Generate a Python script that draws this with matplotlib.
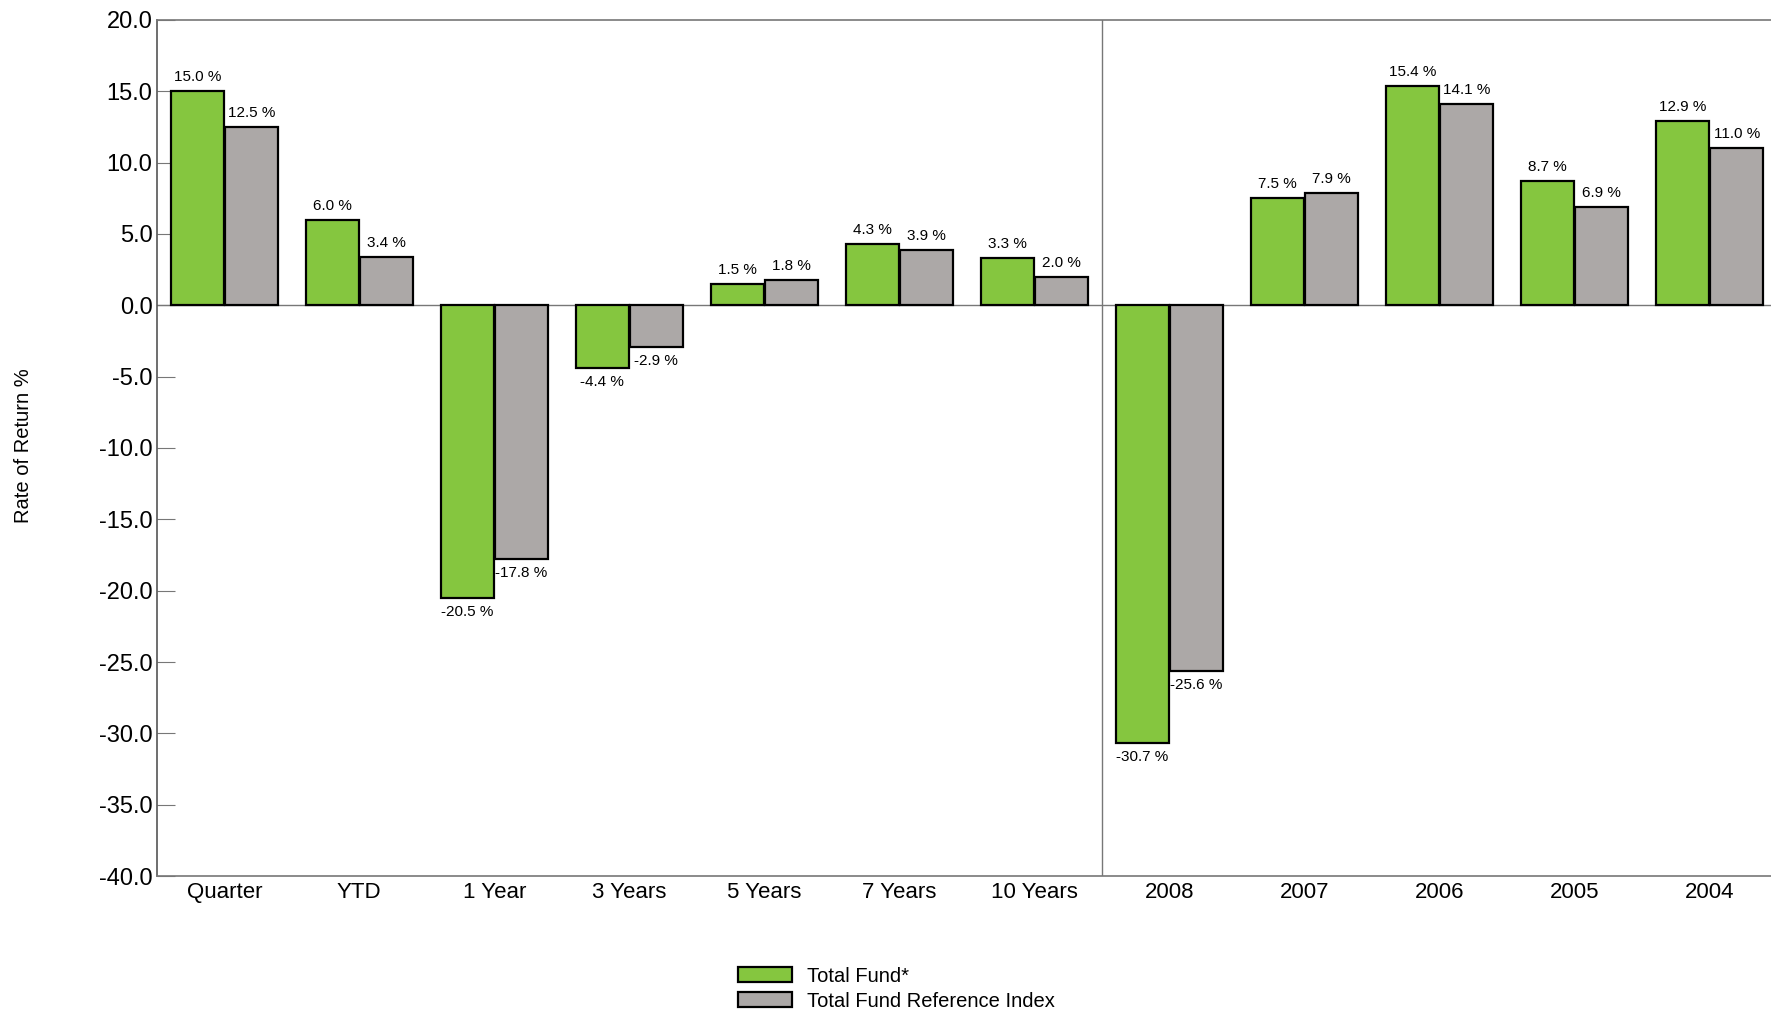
import matplotlib
matplotlib.use("Agg")
import matplotlib.pyplot as plt
import numpy as np

plt.rcParams['font.family'] = ['Liberation Sans Narrow', 'Liberation Sans', 'DejaVu Sans']

# periods / calendar years
categories = ["Quarter", "YTD", "1 Year", "3 Years", "5 Years", "7 Years", "10 Years",
              "2008", "2007", "2006", "2005", "2004"]
total_fund = [15.0, 6.0, -20.5, -4.4, 1.5, 4.3, 3.3, -30.7, 7.5, 15.4, 8.7, 12.9]
reference_index = [12.5, 3.4, -17.8, -2.9, 1.8, 3.9, 2.0, -25.6, 7.9, 14.1, 6.9, 11.0]
series_names = ["Total Fund*", "Total Fund Reference Index"]
yticks = np.arange(-40, 20.1, 5)

green = '#85c63f'
grey = '#aca8a7'
axis_col = '#777777'

fig = plt.figure(figsize=(17.71, 10.13), dpi=100)
ax = fig.add_axes([0.0885, 0.1352, 0.915, 0.8451])

x = np.arange(len(categories))
w = 0.39
b1 = ax.bar(x - 0.2, total_fund, w, color=green, edgecolor='black', linewidth=1.6,
            label=series_names[0], zorder=3)
b2 = ax.bar(x + 0.2, reference_index, w, color=grey, edgecolor='black', linewidth=1.6,
            label=series_names[1], zorder=3)

# value labels
for bars, vals in [(b1, total_fund), (b2, reference_index)]:
    for r, v in zip(bars, vals):
        cx = r.get_x() + r.get_width() / 2
        if v >= 0:
            ax.annotate(f"{v:.1f} %", (cx, v), xytext=(0, 5), textcoords='offset points',
                        ha='center', va='bottom', fontsize=11)
        else:
            ax.annotate(f"{v:.1f} %", (cx, v), xytext=(0, -5), textcoords='offset points',
                        ha='center', va='top', fontsize=11)

ax.axhline(0, color=axis_col, linewidth=1, zorder=2)
ax.axvline(6.5, color=axis_col, linewidth=1, zorder=2)

ax.set_xlim(-0.5, 11.5)
ax.set_ylim(-40, 20)
ax.set_yticks(yticks)
ax.set_yticklabels([f"{t:.1f}" for t in yticks])
ax.set_xticks(x)
ax.set_xticklabels(categories)
ax.tick_params(axis='y', direction='in', length=13, color=axis_col, pad=3, labelsize=17)
ax.tick_params(axis='x', length=0, pad=4, labelsize=16)

for s in ['left', 'bottom', 'top']:
    ax.spines[s].set_color(axis_col)
    ax.spines[s].set_linewidth(1.2)
ax.spines['left'].set_color('#555555')
ax.spines['right'].set_visible(False)

fig.text(0.0135, 0.56, "Rate of Return %", rotation=90, ha='center', va='center', fontsize=14.5)

fig.legend(handles=[b1, b2], loc='center left', bbox_to_anchor=(0.4167, 0.024),
           frameon=False, fontsize=14.5, handlelength=2.7, handleheight=0.8,
           handletextpad=0.75, labelspacing=0.3, borderpad=0, borderaxespad=0)

fig.savefig("out.png", dpi=100)
